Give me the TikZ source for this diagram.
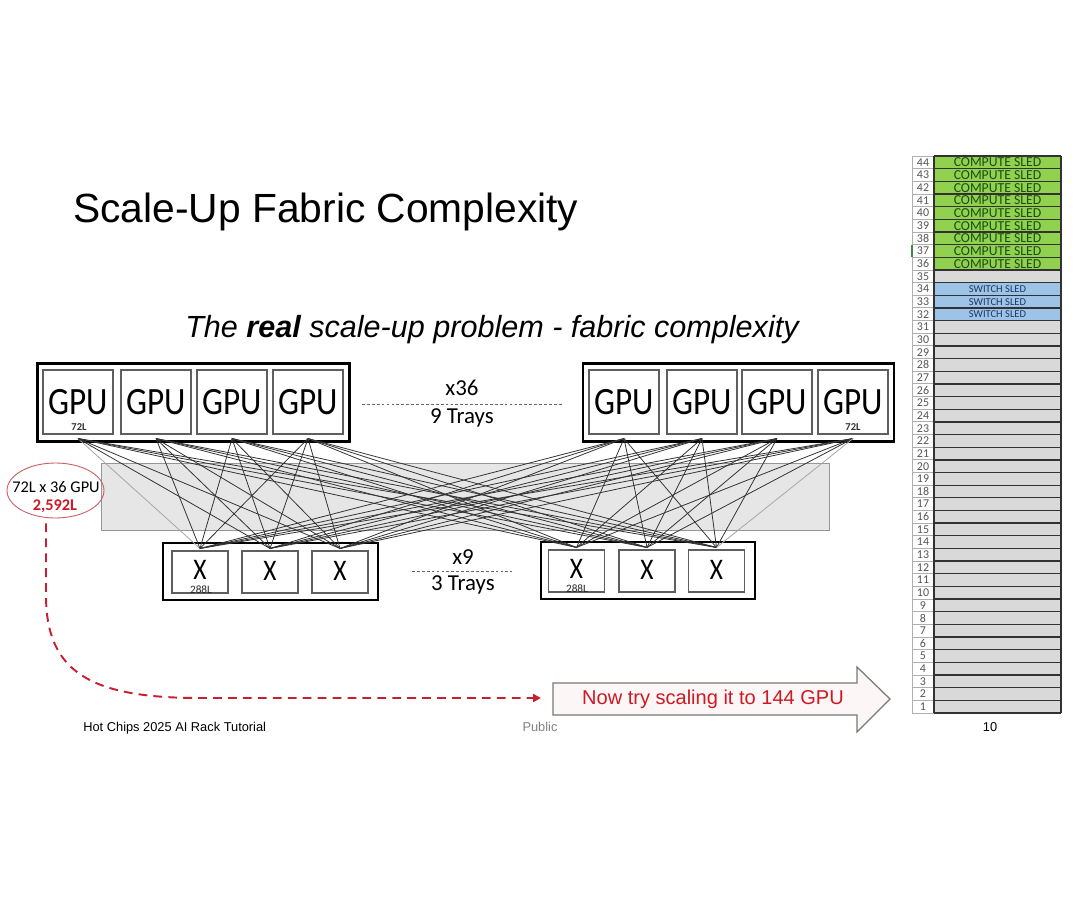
\documentclass[tikz,border=0pt]{standalone}
\usepackage{fontspec}
\setmainfont{Liberation Sans}
\newfontfamily\carl{Carlito}
\usetikzlibrary{calc,arrows.meta,shapes.geometric}
\newlength\pu
\setlength\pu{0.02cm}
\definecolor{compgreen}{RGB}{146,208,80}
\definecolor{switchblue}{RGB}{157,195,230}
\definecolor{emptygray}{RGB}{217,217,217}
\definecolor{greentxt}{RGB}{25,80,15}
\definecolor{bluetxt}{RGB}{31,56,100}
\definecolor{redtxt}{RGB}{205,25,35}
\definecolor{redline}{RGB}{200,30,50}
\definecolor{ellred}{RGB}{205,90,100}
\definecolor{bandfill}{RGB}{230,230,230}
\definecolor{bandedge}{RGB}{150,150,150}
\definecolor{boxedge}{RGB}{95,95,95}
\definecolor{arrowfill}{RGB}{253,246,246}
\definecolor{arrowedge}{RGB}{120,120,120}
\definecolor{numgray}{RGB}{85,85,85}
\definecolor{gridline}{RGB}{50,50,50}
\definecolor{numline}{RGB}{175,175,175}
\definecolor{selgreen}{RGB}{60,140,60}
\begin{document}
\begin{tikzpicture}[x=0.02cm,y=-0.02cm,
  tray/.style={draw=black,line width=1.3pt,inner sep=0pt},
  gpubox/.style={draw=boxedge,line width=0.6pt,minimum width=70\pu,minimum height=64\pu,inner sep=0pt,fill=white,font={\carl\fontsize{22}{24}\selectfont}},
  swbox/.style={draw=boxedge,line width=0.6pt,minimum width=56\pu,minimum height=42\pu,inner sep=0pt,fill=white,font={\carl\fontsize{17}{19}\selectfont}},
  tinylbl/.style={inner sep=0pt,font={\carl\bfseries\fontsize{6}{7}\selectfont},text=black!80},
  tinylbltwo/.style={inner sep=0pt,font={\carl\fontsize{6.4}{7}\selectfont},text=black!85},
  midlbl/.style={inner sep=0pt,font={\carl\fontsize{13}{15}\selectfont}},
  midline/.style={draw=black!60,line width=0.4pt,dash pattern=on 1.6pt off 1.2pt},
  link/.style={line width=0.45pt},
  numtxt/.style={inner sep=0pt,font={\carl\fontsize{6.8}{8}\selectfont},text=numgray},
  comptxt/.style={inner sep=0pt,font={\carl\fontsize{7.8}{8}\selectfont},text=greentxt},
  swtxt/.style={inner sep=0pt,font={\carl\fontsize{6}{7}\selectfont},text=bluetxt},
  reddash/.style={draw=redline,line width=1.1pt,dash pattern=on 5pt off 3.5pt},
  foottxt/.style={inner sep=0pt,anchor=base,font={\fontsize{7.3}{9}\selectfont}}
]
\useasboundingbox (0,0) rectangle (1080,903);
\fill[white] (0,0) rectangle (1080,903);

% title
\node[anchor=base west,inner sep=0pt,font={\fontsize{23.2}{28}\selectfont}] (title) at (73,222) {Scale-Up Fabric Complexity};
\node[anchor=base,inner sep=0pt,font={\itshape\fontsize{17.4}{21}\selectfont}] (subtitle) at (492,337) {The \textbf{real} scale-up problem - fabric complexity};

% band
\node[draw=bandedge,fill=bandfill,line width=0.5pt,minimum width=728\pu,minimum height=67\pu,inner sep=0pt] (band) at (465,496.5) {};

% GPU trays
\node[tray,minimum width=312\pu,minimum height=78\pu] (gtrayL) at (193.5,402.5) {};
\node[tray,minimum width=311\pu,minimum height=78\pu] (gtrayR) at (738.5,402.5) {};
\node[gpubox] (g1) at (78,402) {\scalebox{0.86}[1]{GPU}};
\node[gpubox] (g2) at (156,402) {\scalebox{0.86}[1]{GPU}};
\node[gpubox] (g3) at (232,402) {\scalebox{0.86}[1]{GPU}};
\node[gpubox] (g4) at (308,402) {\scalebox{0.86}[1]{GPU}};
\node[gpubox] (g5) at (624,402) {\scalebox{0.86}[1]{GPU}};
\node[gpubox] (g6) at (702,402) {\scalebox{0.86}[1]{GPU}};
\node[gpubox] (g7) at (777,402) {\scalebox{0.86}[1]{GPU}};
\node[gpubox] (g8) at (853,402) {\scalebox{0.86}[1]{GPU}};
\node[tinylbl] (l72a) at (79,427) {72L};
\node[tinylbl] (l72b) at (853,427) {72L};

% switch trays
\node[tray,minimum width=215\pu,minimum height=57\pu] (strayL) at (270.5,571.5) {};
\node[tray,minimum width=214\pu,minimum height=57\pu] (strayR) at (648,570.5) {};
\node[swbox] (s1) at (200,572) {};
\node[swbox] (s2) at (270,572) {};
\node[swbox] (s3) at (340,572) {};
\node[swbox] (s4) at (576.5,571) {};
\node[swbox] (s5) at (647,571) {};
\node[swbox] (s6) at (716.5,571) {};
\foreach \s/\yy in {1/570,2/571,3/571,4/569,5/570,6/570}{
  \node[inner sep=0pt,font={\carl\fontsize{17}{19}\selectfont}] (sx\s) at ($(s\s.center|-0,\yy)$) {\scalebox{0.85}[1]{X}};
}
\node[tinylbltwo] (l288a) at (201,589.5) {288L};
\node[tinylbltwo] (l288b) at (577,588.5) {288L};

% links
\foreach \g in {1,...,8}{
  \foreach \s in {1,...,6}{
    \pgfmathtruncatemacro\lt{((\g==1)&&(\s==1))||((\g==8)&&(\s==6))}
    \ifnum\lt=1 \def\lc{black!35}\else\def\lc{black!80}\fi
    \draw[link,draw=\lc] ($(g\g.south)+(0,4)$) -- ($(s\s.north)+(0,-2)$);
  }
}

% middle labels
\node[midlbl] (x36) at (462,388) {x36};
\node[midlbl] (trays9) at (462,418) {9 Trays};
\coordinate (d1a) at (362,404);
\coordinate (d1b) at (563,404);
\draw[midline] (d1a) -- (d1b);
\node[midlbl] (x9) at (463,557) {x9};
\node[midlbl] (trays3) at (463,585) {3 Trays};
\coordinate (d2a) at (412,571);
\coordinate (d2b) at (512,571);
\draw[midline] (d2a) -- (d2b);

% ellipse callout
\node[ellipse,draw=ellred,line width=0.5pt,minimum width=97\pu,minimum height=55\pu,inner sep=0pt] (ell) at (55.5,490.5) {};
\node[inner sep=0pt,font={\carl\fontsize{9.3}{11}\selectfont}] (t72) at (56,487) {72L x 36 GPU};
\node[inner sep=0pt,font={\carl\bfseries\fontsize{9.3}{11}\selectfont},text=redtxt] (t2592) at (55,506) {2,592L};

% big arrow
\draw[draw=arrowedge,fill=arrowfill,line width=0.7pt] (553,683) -- (857,683) -- (857,667) -- (890,699) -- (857,732) -- (857,715) -- (553,715) -- cycle;
\node[inner sep=0pt,font={\fontsize{11.4}{13}\selectfont},text=redtxt] (bigarrow) at (713,699) {Now try scaling it to 144 GPU};
\coordinate (tipin) at (541,698);

% dashed connector
\draw[reddash,-{Triangle[length=4.5pt,width=4.5pt]}] ($(ell.south)+(-9.5,5)$) -- (46,595) .. controls (46,672) and (90,698) .. (200,698) -- (tipin);

% footer
\node[foottxt,anchor=base west] (foot) at (83,731) {Hot Chips 2025 AI Rack Tutorial};
\node[foottxt,text=black!50] (public) at (540,731) {Public};
\node[foottxt] (pagenum) at (990,731) {10};

% rack table
\foreach \k in {1,...,44}{
  \pgfmathsetmacro\yt{156+(44-\k)*12.66}
  \pgfmathsetmacro\yc{\yt+6.33}
  \ifnum\k>35 \def\cf{compgreen}\else\ifnum\k>31 \ifnum\k<35 \def\cf{switchblue}\else\def\cf{emptygray}\fi\else\def\cf{emptygray}\fi\fi
  \fill[\cf] (934,\yt) rectangle (1061,\yt+12.66);
  \node[numtxt] (n\k) at (923,\yc) {\k};
}
\foreach \i in {0,...,44}{
  \draw[numline,line width=0.5pt] (912,{156+\i*12.66}) -- (934,{156+\i*12.66});
  \draw[gridline,line width=0.75pt] (934,{156+\i*12.66}) -- (1061,{156+\i*12.66});
}
\draw[numline,line width=0.5pt] (912,156) -- (912,713);
\draw[gridline,line width=0.75pt] (934,156) -- (934,713);
\draw[gridline,line width=0.75pt] (1061,156) -- (1061,713);
\draw[selgreen,line width=0.8pt] (912,{156+7*12.66}) -- (912,{156+8*12.66});
\foreach \k in {36,...,44}{
  \node[comptxt] (c\k) at (997.5,{156+(44-\k)*12.66+6.6}) {COMPUTE SLED};
}
\foreach \k in {32,33,34}{
  \node[swtxt] (c\k) at (997.5,{156+(44-\k)*12.66+6.6}) {SWITCH SLED};
}
\end{tikzpicture}
\end{document}
